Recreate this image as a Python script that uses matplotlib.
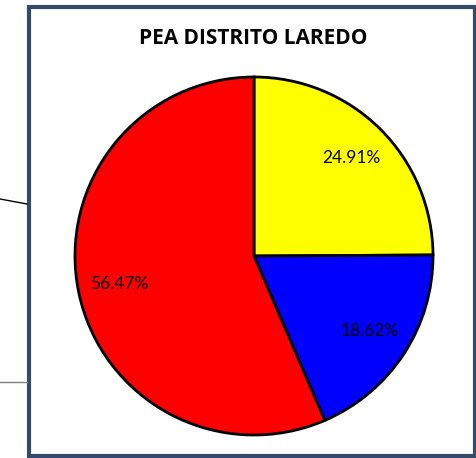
import matplotlib
matplotlib.use("Agg")
import matplotlib.pyplot as plt
from matplotlib.patches import Rectangle
from matplotlib.lines import Line2D

categories = ["Ocupada A", "Ocupada B", "Ocupada C"]
values = [24.91, 18.62, 56.47]
colors = ["#FFFF00", "#0000FF", "#FF0000"]
title = "PEA DISTRITO LAREDO"

W, H = 477, 458
fig = plt.figure(figsize=(W / 100, H / 100), dpi=100)
fig.patch.set_facecolor("white")

cx, cy, r = 254, 256, 179
ax = fig.add_axes([(cx - r) / W, (H - cy - r) / H, 2 * r / W, 2 * r / H])

wedges, texts, autotexts = ax.pie(
    values, colors=colors, startangle=90, counterclock=False, radius=1.0,
    autopct="%.2f%%", pctdistance=0.77,
    wedgeprops=dict(edgecolor="black", linewidth=2.0),
    textprops=dict(fontsize=12.5, family="Lato", color="black"),
)
ax.set_xlim(-1, 1)
ax.set_ylim(-1, 1)
ax.set_aspect("equal")
ax.axis("off")

fig.text(253 / W, 1 - 39 / H, title, ha="center", va="center",
         fontsize=15, fontweight="bold", family="Open Sans")

# chart frame
fig.add_artist(Rectangle((29 / W, 2 / H), 446 / W, 449 / H, transform=fig.transFigure,
                         fill=False, edgecolor="#314b69", linewidth=3.0))
# stray connector lines at the left
fig.add_artist(Line2D([0, 27 / W], [1 - 199 / H, 1 - 204 / H], transform=fig.transFigure,
                      color="black", linewidth=1.0))
fig.add_artist(Line2D([0, 27 / W], [1 - 382 / H, 1 - 382 / H], transform=fig.transFigure,
                      color="#808080", linewidth=1.0))

fig.savefig("out.png", dpi=100)
